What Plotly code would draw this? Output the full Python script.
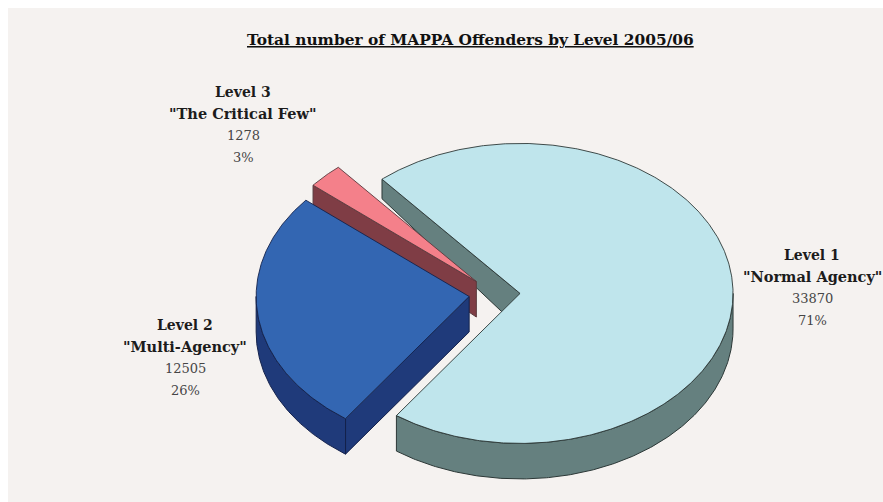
import math
import plotly.graph_objects as go

# Offender counts per MAPPA level, 2005/06
LEVELS = ["Level 1", "Level 3", "Level 2"]
NICKNAMES = ['"Normal Agency"', '"The Critical Few"', '"Multi-Agency"']
COUNTS = [33870, 1278, 12505]
TOP_COLOURS = ["#bfe5ec", "#f4808a", "#3366b2"]
SIDE_COLOURS = ["#65807f", "#7f3d45", "#1f3a7a"]
EDGE_COLOURS = ["#2c3837", "#5a3a3e", "#14224c"]

TITLE = "Total number of MAPPA Offenders by Level 2005/06"

# Projection of the tilted pie onto the page, in pixels
CX, CY = 494.5, 294.2
RX, RY = 213.0, 150.0
EXPLODE = 0.12
START_DEG = -40.4
SERIF = "DejaVu Serif"
INK = "#1c1c1c"
SOFT_INK = "#454545"
PAGE = "#f5f2f0"

TOTAL = sum(COUNTS)


def unit(deg):
    """Clockwise from twelve o'clock, on the unit circle (y grows downward)."""
    a = math.radians(deg)
    return math.sin(a), -math.cos(a)


def depth(v):
    # The far rim of the pie is foreshortened, so its wall is drawn shorter
    return 35.5 + 21.0 * min(v, 0.0)


def to_page(ox, oy, deg):
    u, v = unit(deg)
    return ox + RX * u, oy + RY * v, v


def arc(a, b):
    n = max(2, int(abs(b - a) * 2))
    return [a + (b - a) * i / n for i in range(n + 1)]


fig = go.Figure()


def polygon(xs, ys, fill, edge, width=1.0):
    fig.add_trace(go.Scatter(x=xs, y=ys, mode="lines", fill="toself", fillcolor=fill,
                             line=dict(color=edge, width=width), hoverinfo="skip",
                             showlegend=False))


# Angular span of each slice, going clockwise: Level 1, then Level 2, then Level 3
spans = {}
angle = START_DEG
for i in [0, 2, 1]:
    spans[i] = (angle, angle + COUNTS[i] / TOTAL * 360.0)
    angle = spans[i][1]

# Paint from back to front: Level 1, Level 3, Level 2
for i in range(3):
    a0, a1 = spans[i]
    mx, my = unit((a0 + a1) / 2)
    ox = CX + RX * EXPLODE * mx
    oy = CY + RY * EXPLODE * my

    # Straight cut face along the slice's leading edge
    xo, yo, vo = to_page(ox, oy, a0)
    polygon([ox, xo, xo, ox, ox], [oy, yo, yo + depth(vo), oy + depth(0), oy],
            SIDE_COLOURS[i], EDGE_COLOURS[i])

    # Curved rim, front half of the ellipse only
    lo, hi = max(a0, 90.0), min(a1, 270.0)
    if lo < hi:
        pts = [to_page(ox, oy, d) for d in arc(lo, hi)]
        xs = [p[0] for p in pts] + [p[0] for p in reversed(pts)]
        ys = [p[1] for p in pts] + [p[1] + depth(p[2]) for p in reversed(pts)]
        polygon(xs + xs[:1], ys + ys[:1], SIDE_COLOURS[i], EDGE_COLOURS[i])

    # Top face
    pts = [to_page(ox, oy, d) for d in arc(a0, a1)]
    polygon([ox] + [p[0] for p in pts] + [ox], [oy] + [p[1] for p in pts] + [oy],
            TOP_COLOURS[i], EDGE_COLOURS[i], 0.9)

# Four-line slice labels: name, nickname, count, share
LABEL_CENTRES = [(812, 255), (243, 92), (185, 325)]
LINE_STEP = 21.7
annotations = []
for i, (lx, ly) in enumerate(LABEL_CENTRES):
    lines = [
        (LEVELS[i], "bold", INK, 14.0),
        (NICKNAMES[i], "bold", INK, 14.5),
        (str(COUNTS[i]), "normal", SOFT_INK, 13.0),
        (f"{round(COUNTS[i] / TOTAL * 100)}%", "normal", SOFT_INK, 13.0),
    ]
    for k, (text, weight, colour, size) in enumerate(lines):
        annotations.append(dict(x=lx, y=ly + k * LINE_STEP, xref="x", yref="y", text=text,
                                showarrow=False, xanchor="center", yanchor="middle",
                                font=dict(family=SERIF, size=size, color=colour, weight=weight)))

annotations.append(dict(x=470, y=40, xref="x", yref="y", text=TITLE, showarrow=False,
                        xanchor="center", yanchor="middle",
                        font=dict(family=SERIF, size=15.4, color="#111111", weight="bold",
                                  lineposition="under")))

fig.update_layout(
    width=883, height=502, autosize=False,
    margin=dict(l=0, r=0, t=0, b=0),
    paper_bgcolor="#ffffff", plot_bgcolor="#ffffff",
    xaxis=dict(range=[0, 883], visible=False, fixedrange=True),
    yaxis=dict(range=[502, 0], visible=False, fixedrange=True),
    annotations=annotations,
    shapes=[dict(type="rect", xref="x", yref="y", x0=8, x1=883, y0=8, y1=502,
                 fillcolor=PAGE, line=dict(width=0), layer="below")],
)

fig.write_html("out.html", config=dict(displayModeBar=False))
